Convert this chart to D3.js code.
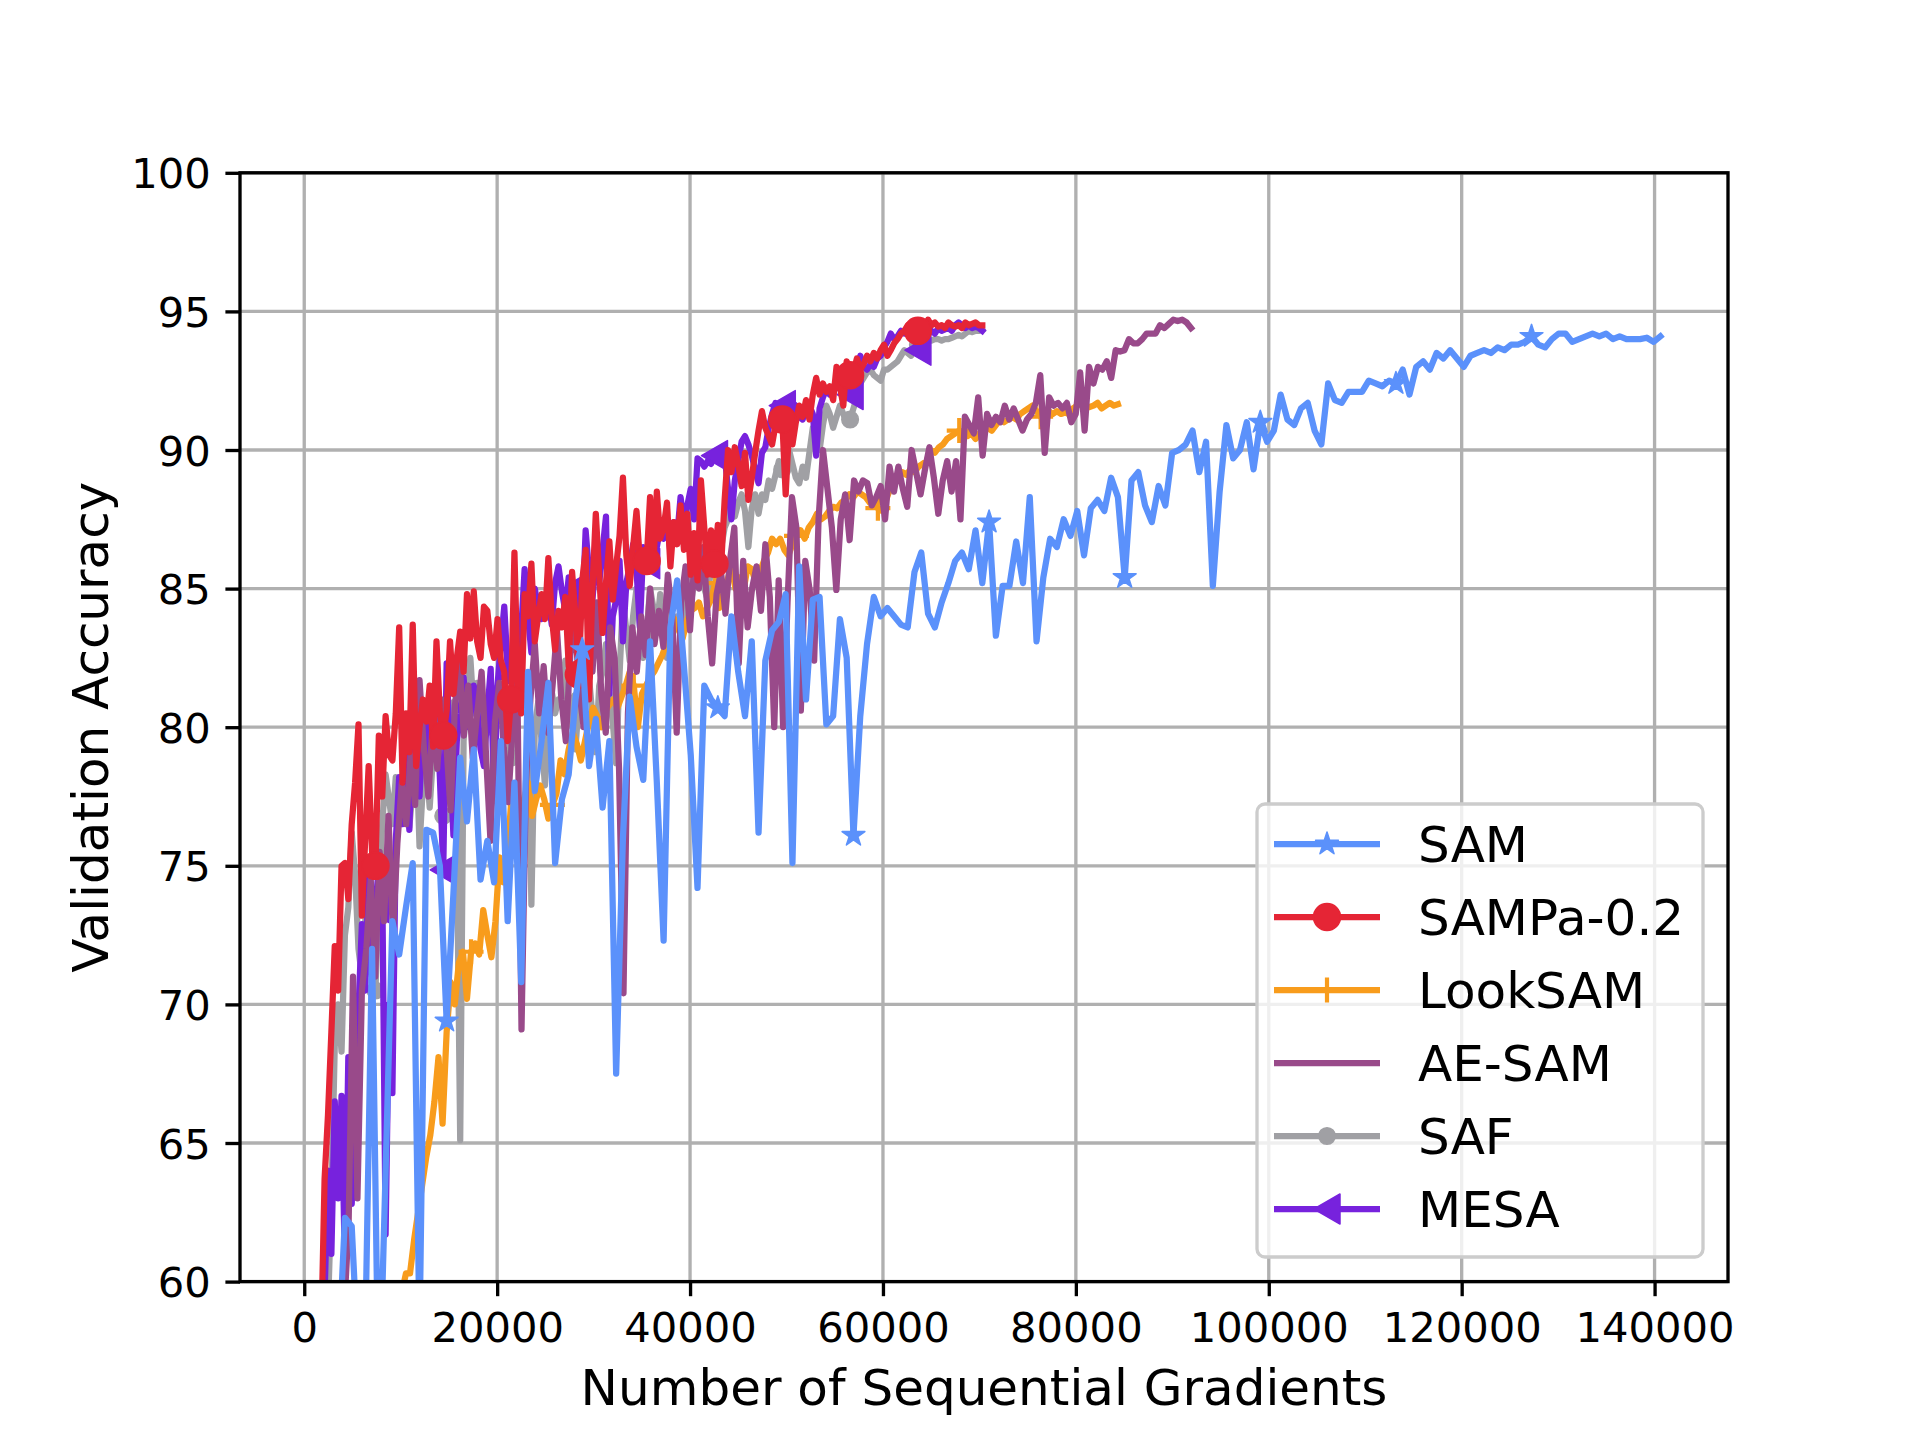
<!DOCTYPE html>
<html><head><meta charset="utf-8">
<script src="https://cdn.jsdelivr.net/npm/d3@7"></script>
<style>html,body{margin:0;padding:0;background:#fff;} svg{display:block;}</style>
</head><body>
<svg id="chart" width="1920" height="1440"></svg>
<script>
// ---------------- DATA ----------------
const seriesNames = ["SAM", "SAMPa-0.2", "LookSAM", "AE-SAM", "SAF", "MESA"];
// sequential gradients between two evaluations (one evaluation per epoch)
const gradsPerEpoch = [703, 351.5, 421.8, 459.7, 351.5, 351.5];
const xTicks = [0, 20000, 40000, 60000, 80000, 100000, 120000, 140000];
const yTicks = [60, 65, 70, 75, 80, 85, 90, 95, 100];

const samAcc = [
35,45,50,55,57,62.3,62.0,57,58,72.0,
55,64,73.0,71.8,73.5,75.1,58,76.3,76.2,75.0,
69.4,74.0,78.9,76.6,79.2,74.5,75.9,74.4,79.5,73.0,
78.0,70.8,82.0,77.7,79.5,81.6,75.1,77.4,78.3,81.0,
82.8,78.6,80.3,77.1,79.5,67.5,76.0,81.1,79.3,78.1,
83.1,78.0,72.3,83.6,85.3,82.2,79.0,74.2,81.5,81.0,
80.7,80.4,84.0,82.0,80.4,83.1,76.2,82.4,83.5,83.8,
84.8,75.1,85.8,81.0,84.6,84.7,80.1,80.4,83.9,82.5,
76.1,80.4,83.0,84.7,84.0,84.3,84.0,83.7,83.6,85.6,
86.3,84.1,83.6,84.5,85.2,86.0,86.3,85.7,87.1,85.2,
87.4,83.3,85.1,85.1,86.7,85.2,88.3,83.1,85.4,86.8,
86.5,87.5,86.9,87.8,86.2,87.9,88.2,87.8,89.0,88.3,
85.4,88.9,89.2,88.0,87.4,88.7,88.0,89.9,90.0,90.2,
90.7,89.2,90.3,85.1,88.5,90.9,89.7,90.0,91.0,89.3,
91.0,90.3,90.7,92.0,91.1,90.9,91.5,91.7,90.7,90.2,
92.4,91.8,91.7,92.1,92.1,92.1,92.5,92.4,92.3,92.5,
92.4,92.9,92.0,93.0,93.2,92.9,93.5,93.3,93.6,93.3,
93.0,93.4,93.5,93.6,93.5,93.7,93.6,93.8,93.8,93.9,
94.1,93.8,93.7,94.0,94.2,94.2,93.9,94.0,94.1,94.2,
94.1,94.2,94.0,94.1,94.0,94.0,94.0,94.05,93.9,94.1];

const sampaAcc = [
20,35,45,52,58,63.7,66.0,69.0,72.1,70.5,
75.0,75.1,73.8,76.5,78.0,80.1,73.2,76.0,78.6,75.5,
75.0,79.7,77.5,80.4,79.0,78.8,80.5,83.6,78.0,80.5,
79.1,83.7,78.6,80.0,81.0,80.2,81.5,79.3,83.1,80.5,
79.7,80.6,83.1,81.2,82.5,83.45,82.0,84.8,83.2,84.9,
83.1,82.5,84.35,84.2,83.0,82.5,83.9,82.4,82.0,79.5,
81.0,86.3,81.5,80.5,84.8,84.0,85.9,83.1,84.0,84.8,
83.9,86.1,84.0,82.8,84.2,83.6,84.7,82.2,85.6,84.0,
81.9,85.3,86.4,81.0,85.0,87.7,85.5,83.4,85.2,86.7,
84.6,85.8,86.9,89.0,86.2,85.1,86.5,87.8,86.0,86.3,
86.0,88.3,85.9,88.5,86.8,87.2,88.1,85.8,87.4,86.6,
88.0,86.4,87.7,85.5,87.0,85.3,88.9,87.2,85.5,87.1,
85.9,87.3,85.9,88.2,90.0,89.2,90.1,89.5,88.7,89.9,
88.2,89.0,89.9,90.7,91.4,90.8,90.5,90.2,90.9,91.3,
91.1,88.4,90.8,90.2,91.0,91.6,91.2,91.8,91.1,92.0,
92.6,92.0,92.4,92.1,92.3,91.8,93.0,92.3,91.6,93.2,
92.7,92.8,93.3,92.9,93.1,93.4,93.2,93.5,93.3,93.6,
93.8,93.4,93.6,93.85,94.0,94.2,94.3,94.5,94.3,94.5,
94.3,94.5,94.4,94.7,94.5,94.6,94.45,94.5,94.4,94.6,
94.5,94.45,94.5,94.4,94.6,94.5,94.55,94.6,94.5,94.5];

const lookAcc = [
10,20,28,34,38,42,45,47,49,50.5,
52,53,54,55,55.5,56,56.5,57,57.5,58,
58.5,59,59.3,59.6,60.3,60.3,61.5,62.5,63.5,64.5,
65.3,66.5,68.1,65.7,69.0,70.8,70.0,71.5,71.9,70.2,
71.9,72.2,71.8,73.4,72.5,71.7,73.0,75.3,74.4,75.5,
77.6,77.2,76.5,77.4,78.0,76.8,77.4,77.9,77.4,76.7,
77.2,77.6,78.8,78.3,79.2,79.8,79.4,78.8,79.5,80.2,
80.7,80.4,80.0,80.6,80.8,81.0,80.7,81.1,81.5,82.0,
81.5,80.0,81.2,81.5,81.8,82.0,82.3,82.6,83.0,83.4,
83.9,83.5,83.2,83.8,84.2,84.3,84.5,84.0,84.3,84.6,
85.2,84.3,84.8,85.3,85.8,85.0,85.4,84.95,85.8,85.7,
85.2,85.6,86.0,86.3,86.8,86.6,86.8,86.4,86.2,86.6,
86.9,87.1,86.8,87.2,87.4,87.7,87.5,87.6,87.8,87.95,
87.9,88.1,88.2,88.4,88.3,88.5,88.4,88.3,88.1,88.0,
87.9,87.8,88.2,88.6,88.8,89.0,89.2,89.1,89.3,89.2,
89.4,89.5,89.6,90.0,89.9,90.1,90.2,90.4,90.5,90.6,
90.7,90.6,90.5,90.6,90.4,90.6,90.7,90.8,90.7,90.9,
91.1,91.0,91.1,91.2,91.1,91.3,91.4,91.5,91.6,91.4,
91.2,91.3,91.4,91.3,91.4,91.3,91.35,91.3,91.5,91.6,
91.7,91.6,91.55,91.6,91.7,91.5,91.6,91.7,91.6,91.65];

const aesamAcc = [
20,32,40,46,50,53,55.5,57.5,59,62,
71.0,63.0,70.5,72.0,74.5,71.0,75.5,73.0,76.8,72.5,
75.8,78.0,76.5,79.0,77.2,81.7,79.2,77.5,80.3,78.5,
81.0,79.5,77.0,80.8,82.5,79.7,81.5,78.9,80.5,82.0,
79.0,75.9,80.2,81.6,79.3,77.3,80.0,82.4,69.1,78.0,
81.0,83.0,80.5,82.2,79.8,81.5,83.5,81.0,79.5,82.6,
84.0,81.4,80.0,83.2,82.0,84.5,81.2,79.8,83.6,82.5,
78.5,70.4,80.5,83.6,82.0,84.0,82.6,85.0,83.0,84.2,
82.9,85.5,84.0,79.8,84.5,85.8,83.5,86.0,85.0,86.5,
84.0,82.3,84.8,85.6,84.1,86.0,87.2,82.3,86.0,83.6,
85.0,85.8,84.2,86.6,84.7,80.0,85.3,80.0,84.5,88.3,
87.2,80.6,86.0,84.95,82.4,87.5,90.0,88.6,87.2,84.95,
87.5,88.4,86.75,88.9,88.5,88.9,88.8,88.0,88.3,88.7,
87.5,89.4,88.5,89.4,88.6,87.95,90.0,89.2,88.4,89.3,
90.1,89.0,87.7,88.9,89.6,88.5,89.6,87.5,91.2,90.9,
90.6,91.9,89.8,91.3,90.9,91.2,91.0,91.6,91.1,91.5,
91.1,90.7,91.1,91.3,91.7,92.7,89.9,91.9,91.6,91.7,
91.5,91.7,91.0,91.3,92.8,90.7,93.0,92.4,93.0,92.9,
93.2,92.6,93.6,93.55,93.6,94.0,93.85,93.85,94.0,94.2,
94.2,94.2,94.5,94.4,94.55,94.7,94.65,94.7,94.6,94.4];

const safAcc = [
22,36,44,50,55,58,59,63,68.5,70.0,
68.3,72.5,73.5,76.2,74.7,72.0,71.0,73.0,74.5,72.0,
70.5,74.0,76.5,78.3,77.4,76.5,78.2,76.9,77.5,78.8,
76.4,77.8,79.5,75.7,77.9,78.6,77.1,79.0,80.2,78.8,
76.8,78.5,80.0,80.9,76.0,65.1,79.5,81.2,82.5,80.5,
81.6,80.8,79.9,80.6,79.8,81.4,80.5,82.0,79.5,80.2,
78.9,80.6,81.5,82.2,80.8,81.0,73.6,80.0,80.9,79.5,
77.9,79.8,81.3,80.5,81.0,80.8,82.4,81.0,80.2,79.2,
81.0,80.9,82.5,81.8,80.4,79.1,81.5,82.0,83.0,81.3,
80.2,78.7,81.9,84.6,83.5,82.4,84.0,85.0,83.7,82.5,
83.4,85.0,84.3,83.6,84.8,83.5,82.5,84.2,83.5,84.0,
83.6,84.7,83.8,84.4,85.3,85.1,85.6,85.0,84.6,85.8,
86.4,87.1,86.5,87.2,87.5,88.3,87.6,88.1,88.4,87.8,
86.5,87.9,88.4,87.7,88.4,88.2,88.9,88.6,89.1,89.6,
89.3,89.8,90.0,89.5,89.0,88.8,89.4,89.0,89.9,90.8,
90.5,90.0,90.9,91.6,91.3,90.8,91.2,91.6,91.3,91.0,
91.1,91.5,91.9,92.4,92.6,92.8,92.9,92.7,92.6,92.5,
92.9,92.9,93.0,93.1,93.2,93.4,93.6,93.5,93.4,93.7,
93.8,93.85,93.9,93.95,93.95,94.0,94.0,93.95,94.0,94.0,
94.05,94.1,94.15,94.1,94.2,94.3,94.25,94.3,94.3,94.35];

const mesaAcc = [
25,38,46,52,57,59.5,64,61,66.5,63,
66.7,60.5,68.1,62.8,66,69.8,72.9,70.5,75,71,
73.5,75,74.5,61.7,70,66.8,75.9,78.2,76.5,79.5,
76.3,80.5,78.6,77.5,80.2,78.9,81.0,79.5,80.8,78.2,
74.85,82.3,79.0,76.1,79.5,80.5,81.8,80.0,80.4,81.5,
80.7,79.2,78.6,80.5,82.1,77.4,81.5,83.0,84.35,82.1,
81.8,83.2,82.5,83.5,85.7,84.0,82.7,85.0,84.3,83.9,
84.5,84.6,83.7,85.2,85.8,84.9,84.2,85.4,84.8,83.5,
85.1,84.0,87.1,85.6,84.6,86.0,85.2,86.4,87.6,81.2,
84.0,84.6,86.0,83.1,85.2,85.8,86.6,85.7,83.6,86.5,
85.9,87.0,87.8,86.5,87.2,86.8,87.5,86.3,87.4,86.9,
88.3,87.4,88.0,88.6,87.5,89.7,89.6,89.4,89.6,89.5,
89.8,89.6,89.7,89.8,88.6,87.5,88.9,89.6,90.3,90.5,
90.2,89.8,89.3,88.8,89.9,90.1,90.8,91.3,91.7,91.4,
91.6,91.8,91.3,91.7,91.6,91.2,91.1,91.5,91.6,91.3,
89.8,91.5,91.9,92.2,92.0,92.1,92.3,92.2,92.4,92.1,
92.0,92.0,92.8,93.4,93.0,92.9,93.1,93.0,93.3,93.4,
93.7,93.9,94.2,94.0,94.1,94.3,94.2,94.3,94.2,94.1,
93.6,93.9,94.1,94.2,94.3,94.2,94.4,94.3,94.35,94.4,
94.3,94.5,94.6,94.5,94.4,94.5,94.4,94.45,94.4,94.3];

const accuracyLists = [samAcc, sampaAcc, lookAcc, aesamAcc, safAcc, mesaAcc];

// ---------------- STYLE ----------------
const seriesColors = ["#5b91fb", "#e52535", "#f89c1c", "#994a8a", "#a0a0a4", "#7722dd"];
const seriesMarkers = ["star", "circle", "plus", "none", "dot", "triangleLeft"];
const drawOrder = ["SAF", "MESA", "LookSAM", "AE-SAM", "SAMPa-0.2", "SAM"];
const markEvery = 20;

const W = 1920, H = 1440;
const area = {left: 240, right: 1728, top: 172.8, bottom: 1281.6};
const LW = 6.25, GRIDW = 3.33, FONT = "DejaVu Sans, Liberation Sans, sans-serif";

const svg = d3.select("#chart");
svg.append("rect").attr("width", W).attr("height", H).attr("fill", "#fff");

const series = seriesNames.map((name, k) => ({
  name, color: seriesColors[k], marker: seriesMarkers[k],
  points: accuracyLists[k].map((v, i) => ({x: (i + 1) * gradsPerEpoch[k], y: v, i}))
}));

const allX = series.flatMap(s => s.points.map(p => p.x));
const xMin = d3.min(allX), xMax = d3.max(allX), pad = 0.05 * (xMax - xMin);
const x = d3.scaleLinear().domain([xMin - pad, xMax + pad]).range([area.left, area.right]);
const y = d3.scaleLinear().domain([60, 100]).range([area.bottom, area.top]);

// clip
svg.append("defs").append("clipPath").attr("id", "clip")
  .append("rect").attr("x", area.left).attr("y", area.top)
  .attr("width", area.right - area.left).attr("height", area.bottom - area.top);

// grid
const grid = svg.append("g");
grid.selectAll(".gx").data(xTicks).join("line")
  .attr("x1", d => x(d)).attr("x2", d => x(d)).attr("y1", area.top).attr("y2", area.bottom)
  .attr("stroke", "#b0b0b0").attr("stroke-width", GRIDW);
grid.selectAll(".gy").data(yTicks).join("line")
  .attr("y1", d => y(d)).attr("y2", d => y(d)).attr("x1", area.left).attr("x2", area.right)
  .attr("stroke", "#b0b0b0").attr("stroke-width", GRIDW);

// marker paths
function markerPath(type) {
  if (type === "star") {
    const R = 12, r = R * 0.382, pts = [];
    for (let j = 0; j < 10; j++) {
      const a = -Math.PI / 2 + j * Math.PI / 5, rr = j % 2 ? r : R;
      pts.push([rr * Math.cos(a), rr * Math.sin(a)]);
    }
    return "M" + pts.map(p => p.join(",")).join("L") + "Z";
  }
  if (type === "circle") return d3.symbol(d3.symbolCircle, Math.PI * 13.5 * 13.5)();
  if (type === "dot") return d3.symbol(d3.symbolCircle, Math.PI * 8.3 * 8.3)();
  if (type === "plus") return "M-12.5,0L12.5,0M0,-12.5L0,12.5";
  if (type === "triangleLeft") return "M-13,0L13,-15L13,15Z";
  return null;
}
function drawMarker(g, type, color, cx, cy) {
  const p = markerPath(type);
  if (!p) return;
  const el = g.append("path").attr("d", p).attr("transform", `translate(${cx},${cy})`);
  if (type === "plus") el.attr("fill", "none").attr("stroke", color).attr("stroke-width", 4.2);
  else el.attr("fill", color).attr("stroke", color).attr("stroke-width", 1.5).attr("stroke-linejoin", "round");
}

// lines
const plot = svg.append("g").attr("clip-path", "url(#clip)");
const line = d3.line().x(d => x(d.x)).y(d => y(d.y));
drawOrder.forEach(name => {
  const s = series.find(t => t.name === name);
  const g = plot.append("g");
  g.append("path").datum(s.points).attr("d", line)
    .attr("fill", "none").attr("stroke", s.color).attr("stroke-width", LW)
    .attr("stroke-linejoin", "round").attr("stroke-linecap", "square");
  s.points.filter(p => p.i % markEvery === 0)
    .forEach(p => drawMarker(g, s.marker, s.color, x(p.x), y(p.y)));
});

// axes
const TL = 14.6;
const xAxis = svg.append("g").attr("transform", `translate(0,${area.bottom})`)
  .call(d3.axisBottom(x).tickValues(xTicks).tickFormat(d3.format("d")).tickSize(TL).tickPadding(16));
const yAxis = svg.append("g").attr("transform", `translate(${area.left},0)`)
  .call(d3.axisLeft(y).tickValues(yTicks).tickFormat(d3.format("d")).tickSize(TL).tickPadding(14.6));
[xAxis, yAxis].forEach(a => {
  a.select(".domain").remove();
  a.selectAll(".tick line").attr("stroke", "#000").attr("stroke-width", GRIDW);
  a.selectAll(".tick text").attr("fill", "#000").attr("font-family", FONT).attr("font-size", 41.67);
});
yAxis.selectAll(".tick text").attr("dy", "0.36em");

// spines
svg.append("rect").attr("x", area.left).attr("y", area.top)
  .attr("width", area.right - area.left).attr("height", area.bottom - area.top)
  .attr("fill", "none").attr("stroke", "#000").attr("stroke-width", GRIDW);

// axis labels
svg.append("text").attr("x", (area.left + area.right) / 2).attr("y", 1405)
  .attr("text-anchor", "middle").attr("font-family", FONT).attr("font-size", 50)
  .attr("fill", "#000").text("Number of Sequential Gradients");
svg.append("text").attr("transform", `translate(108,${(area.top + area.bottom) / 2}) rotate(-90)`)
  .attr("text-anchor", "middle").attr("font-family", FONT).attr("font-size", 50)
  .attr("fill", "#000").text("Validation Accuracy");

// legend
const leg = svg.append("g");
leg.append("rect").attr("x", 1257).attr("y", 804).attr("width", 446).attr("height", 453)
  .attr("rx", 8).attr("ry", 8).attr("fill", "rgba(255,255,255,0.8)")
  .attr("stroke", "#cccccc").attr("stroke-width", GRIDW);
series.forEach((s, k) => {
  const cy = 844 + k * 73;
  const g = leg.append("g");
  g.append("line").attr("x1", 1274).attr("x2", 1380).attr("y1", cy).attr("y2", cy)
    .attr("stroke", s.color).attr("stroke-width", LW);
  drawMarker(g, s.marker, s.color, 1327, cy);
  g.append("text").attr("x", 1418).attr("y", cy + 18).attr("font-family", FONT)
    .attr("font-size", 50).attr("fill", "#000").text(s.name);
});
</script>
</body></html>
